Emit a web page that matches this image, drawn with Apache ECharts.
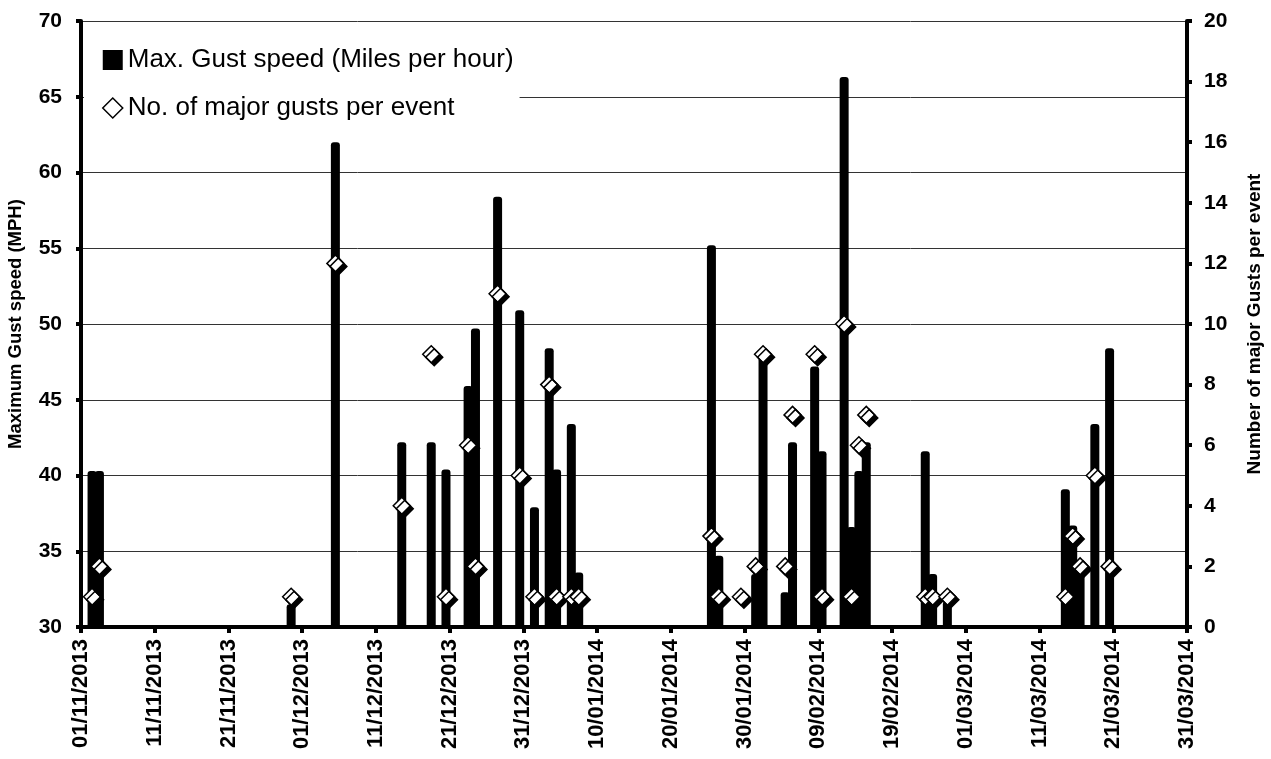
<!DOCTYPE html>
<html>
<head>
<meta charset="utf-8">
<script src="https://cdn.jsdelivr.net/npm/echarts@6/dist/echarts.min.js"></script>
<style>
  html, body { margin: 0; padding: 0; background: #fff; }
  #chart { width: 1271px; height: 759px; }
</style>
</head>
<body>
<div id="chart"></div>
<script>
// event dates (dd/mm/yyyy)
const eventDates = [
  "02/11/2013", "03/11/2013", "29/11/2013", "05/12/2013", "14/12/2013",
  "18/12/2013", "20/12/2013", "23/12/2013", "24/12/2013", "27/12/2013",
  "30/12/2013", "01/01/2014", "03/01/2014", "04/01/2014", "06/01/2014",
  "07/01/2014", "25/01/2014", "26/01/2014", "29/01/2014", "31/01/2014",
  "01/02/2014", "04/02/2014", "05/02/2014", "08/02/2014", "09/02/2014",
  "12/02/2014", "13/02/2014", "14/02/2014", "15/02/2014", "23/02/2014",
  "24/02/2014", "26/02/2014", "14/03/2014", "15/03/2014", "16/03/2014",
  "18/03/2014", "20/03/2014"
];
// max gust speed (mph), null = below axis
const maxGust = [
  40.3, 40.3, 31.5, 62.0, 42.2,
  42.2, 40.4, 45.9, 49.7, 58.4,
  50.9, 37.9, 48.4, 40.4, 43.4,
  33.6, 55.2, 34.7, null, 33.5,
  47.8, 32.3, 42.2, 47.2, 41.6,
  66.3, 36.6, 40.3, 42.2, 41.6,
  33.5, 31.7, 39.1, 36.7, 34.0,
  43.4, 48.4
];
// number of major gusts per event
const gustCount = [
  1, 2, 1, 12, 4,
  9, 1, 6, 2, 11,
  5, 1, 8, 1, 1,
  1, 3, 1, 1, 2,
  9, 2, 7, 9, 1,
  10, 1, 6, 7, 1,
  1, 1, 1, 3, 2,
  5, 2
];
const tickLabels = [
  "01/11/2013", "11/11/2013", "21/11/2013", "01/12/2013", "11/12/2013",
  "21/12/2013", "31/12/2013", "10/01/2014", "20/01/2014", "30/01/2014",
  "09/02/2014", "19/02/2014", "01/03/2014", "11/03/2014", "21/03/2014",
  "31/03/2014"
];

const FONT = "'Liberation Sans', Arial, sans-serif";
const startDay = Date.UTC(2013, 10, 1);

// day index from the axis start, centred in the day slot
function dayPos(s) {
  const p = s.split("/");
  const t = Date.UTC(+p[2], +p[1] - 1, +p[0]);
  return (t - startDay) / 86400000 + 0.5;
}

const barData = [];
const scatterData = [];
for (let i = 0; i < eventDates.length; i++) {
  const x = dayPos(eventDates[i]);
  if (maxGust[i] !== null) barData.push([x, maxGust[i]]);
  scatterData.push([x, gustCount[i]]);
}

const chart = echarts.init(document.getElementById("chart"));
const option = {
  animation: false,
  textStyle: { fontFamily: FONT },
  grid: { left: 81, right: 84, top: 21, bottom: 132, outerBoundsMode: "none", containLabel: false },
  legend: {
    orient: "vertical",
    left: 84,
    top: 25,
    backgroundColor: "#fff",
    padding: [20, 6, 10, 18],
    itemGap: 18,
    itemWidth: 20,
    itemHeight: 20,
    textStyle: { fontSize: 26, color: "#000", lineHeight: 30, fontFamily: FONT },
    data: [
      { name: "Max. Gust speed (Miles per hour)", icon: "rect" },
      {
        name: "No. of major gusts per event",
        icon: "diamond",
        itemStyle: { color: "#fff", borderColor: "#000", borderWidth: 1.5, shadowColor: "transparent", shadowOffsetX: 0, shadowOffsetY: 0 }
      }
    ]
  },
  xAxis: {
    type: "value",
    min: 0,
    max: 150,
    interval: 10,
    axisLine: { show: true, onZero: false, lineStyle: { color: "#000", width: 4 } },
    axisTick: { show: true, length: 6, lineStyle: { color: "#000", width: 4 } },
    axisLabel: {
      rotate: 90,
      margin: 12,
      fontSize: 22,
      fontWeight: "bold",
      color: "#000",
      fontFamily: FONT,
      formatter: function (v) { return tickLabels[Math.round(v / 10)]; }
    },
    splitLine: { show: false }
  },
  yAxis: [
    {
      type: "value",
      min: 30,
      max: 70,
      interval: 5,
      name: "Maximum Gust speed (MPH)",
      nameLocation: "middle",
      nameGap: 56,
      nameTextStyle: { fontSize: 18.5, fontWeight: "bold", color: "#000", fontFamily: FONT },
      axisLine: { show: true, lineStyle: { color: "#000", width: 4 } },
      axisTick: { show: true, length: 5, lineStyle: { color: "#000", width: 4 } },
      axisLabel: { margin: 19, fontSize: 21, fontWeight: "bold", color: "#000", fontFamily: FONT },
      splitLine: { show: true, lineStyle: { color: "#333", width: 1 } }
    },
    {
      type: "value",
      position: "right",
      min: 0,
      max: 20,
      interval: 2,
      name: "Number of major Gusts per event",
      nameLocation: "middle",
      nameGap: 58,
      nameRotate: 90,
      nameTextStyle: { fontSize: 19, fontWeight: "bold", color: "#000", fontFamily: FONT },
      axisLine: { show: true, lineStyle: { color: "#000", width: 4 } },
      axisTick: { show: true, length: 5, lineStyle: { color: "#000", width: 4 } },
      axisLabel: { margin: 17, fontSize: 21, fontWeight: "bold", color: "#000", fontFamily: FONT },
      splitLine: { show: false }
    }
  ],
  series: [
    {
      name: "Max. Gust speed (Miles per hour)",
      type: "bar",
      data: barData,
      barWidth: 9,
      z: 2,
      itemStyle: { color: "#000", borderRadius: [3, 3, 0, 0] }
    },
    {
      name: "No. of major gusts per event",
      type: "scatter",
      yAxisIndex: 1,
      data: scatterData,
      symbol: "diamond",
      symbolSize: 17,
      z: 3,
      itemStyle: {
        color: "#fff",
        borderColor: "#000",
        borderWidth: 1.5,
        opacity: 1,
        shadowColor: "#000",
        shadowBlur: 0,
        shadowOffsetX: 3,
        shadowOffsetY: 3
      }
    }
  ]
};
chart.setOption(option);
</script>
</body>
</html>
